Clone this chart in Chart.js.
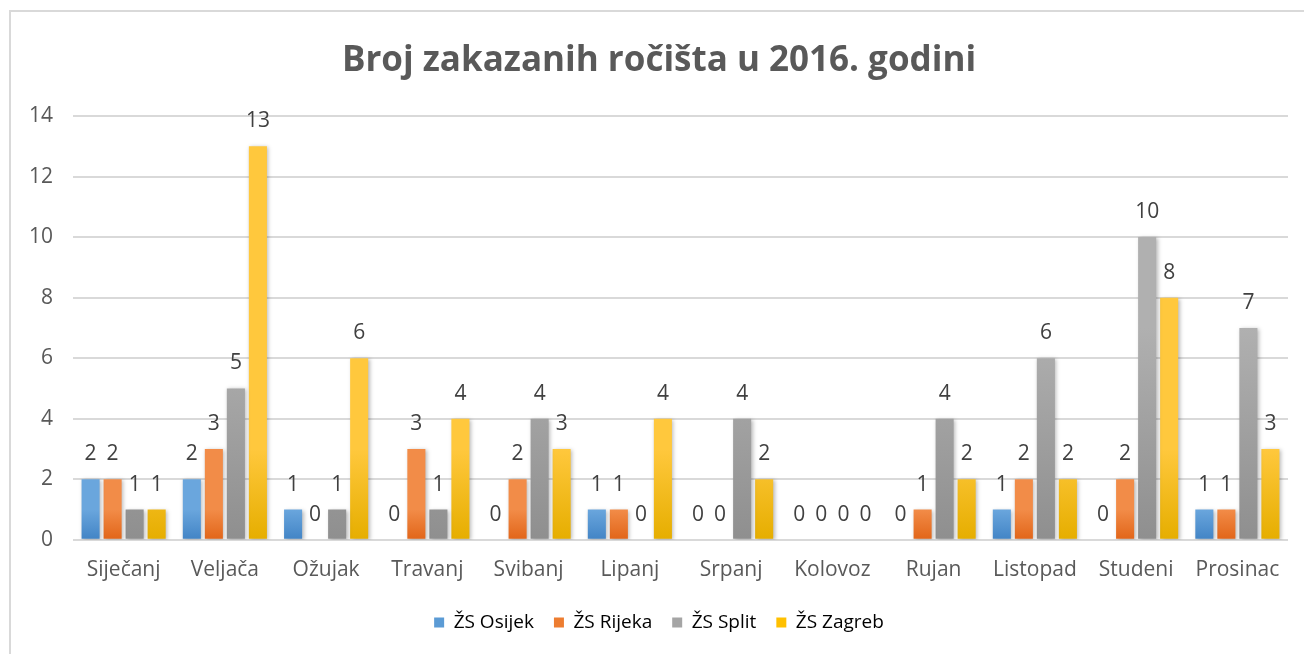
<!DOCTYPE html>
<html><head><meta charset="utf-8">
<script src="https://cdn.jsdelivr.net/npm/chart.js@4.4.1/dist/chart.umd.min.js"></script>
<style>
html,body{margin:0;padding:0;background:#fff;}
#wrap{position:absolute;left:0;top:0;width:1304px;height:654px;overflow:hidden;}
#frame{position:absolute;left:9px;top:10px;width:1400px;height:700px;border-top:2px solid #d9d9d9;border-left:2px solid #d9d9d9;}
canvas{position:absolute;left:0;top:0;}
</style></head>
<body>
<div id="wrap"><div id="frame"></div><canvas id="c" width="1304" height="654"></canvas></div>
<script>
const categories = ["Siječanj","Veljača","Ožujak","Travanj","Svibanj","Lipanj","Srpanj","Kolovoz","Rujan","Listopad","Studeni","Prosinac"];
const seriesNames = ["ŽS Osijek","ŽS Rijeka","ŽS Split","ŽS Zagreb"];
const osijek = [2,2,1,0,0,1,0,0,0,1,0,1];
const rijeka = [2,3,0,3,2,1,0,0,1,2,2,1];
const split  = [1,5,1,1,4,0,4,0,4,6,10,7];
const zagreb = [1,13,6,4,3,4,2,0,2,2,8,3];
const yTicks = [0,2,4,6,8,10,12,14];

const topCol = ["#6aa6dd","#f28c48","#b0b0b0","#ffc83d"];
const botCol = ["#4385c6","#e2661a","#8f8f8f","#e6ae00"];
const solid  = ["#5b9bd5","#ed7d31","#a5a5a5","#ffc000"];
const FONT = '"Open Sans", sans-serif';

const barStyle = {
  id:'barStyle',
  beforeDatasetsDraw(chart){
    const ctx = chart.ctx;
    chart.data.datasets.forEach((ds,di)=>{
      chart.getDatasetMeta(di).data.forEach(el=>{
        if (el.base - el.y < 1) return;
        const g = ctx.createLinearGradient(0,el.y,0,el.base);
        g.addColorStop(0,topCol[di]); g.addColorStop(1,botCol[di]);
        el.options.backgroundColor = g;
      });
    });
    ctx.save();
    ctx.shadowColor='rgba(0,0,0,0.28)'; ctx.shadowBlur=4; ctx.shadowOffsetX=1.5; ctx.shadowOffsetY=1;
  },
  afterDatasetsDraw(chart){
    const ctx = chart.ctx;
    ctx.restore();
    ctx.save();
    ctx.font = '21px ' + FONT;
    ctx.fillStyle = '#404040';
    ctx.textAlign = 'center';
    ctx.textBaseline = 'alphabetic';
    chart.data.datasets.forEach((ds,di)=>{
      chart.getDatasetMeta(di).data.forEach((el,i)=>{
        ctx.fillText(String(ds.data[i]), el.x, el.y - 19);
      });
    });
    ctx.restore();
  }
};

const series = [osijek,rijeka,split,zagreb];
new Chart(document.getElementById('c'),{
  type:'bar',
  data:{
    labels:categories,
    datasets: series.map((d,i)=>({
      label:seriesNames[i], data:d, backgroundColor:solid[i], borderWidth:0,
      barPercentage:0.82, categoryPercentage:0.87
    }))
  },
  options:{
    responsive:false, animation:false,
    layout:{padding:{left:30,right:16,top:0,bottom:12}},
    plugins:{
      title:{display:true,text:"Broj zakazanih ročišta u 2016. godini",color:'#595959',
        font:{family:FONT,size:35,weight:'bold'},padding:{top:40,bottom:34}},
      legend:{position:'bottom',labels:{color:'#595959',font:{family:FONT,size:19},
        boxWidth:10,boxHeight:10,padding:20,
        generateLabels(chart){return chart.data.datasets.map((ds,i)=>({text:ds.label,fillStyle:solid[i],strokeStyle:solid[i],lineWidth:0,datasetIndex:i}));}}},
      tooltip:{enabled:false}
    },
    scales:{
      x:{grid:{display:false},border:{display:false},ticks:{color:'#595959',font:{family:FONT,size:21},padding:10}},
      y:{min:0,max:14,afterBuildTicks(ax){ax.ticks=yTicks.map(v=>({value:v}));},
        afterFit(ax){ax.width=43;},
        grid:{color:'#d9d9d9',lineWidth:2,drawTicks:false},border:{display:false},
        ticks:{color:'#595959',font:{family:FONT,size:21},padding:20}}
    }
  },
  plugins:[barStyle]
});
</script>
</body></html>
